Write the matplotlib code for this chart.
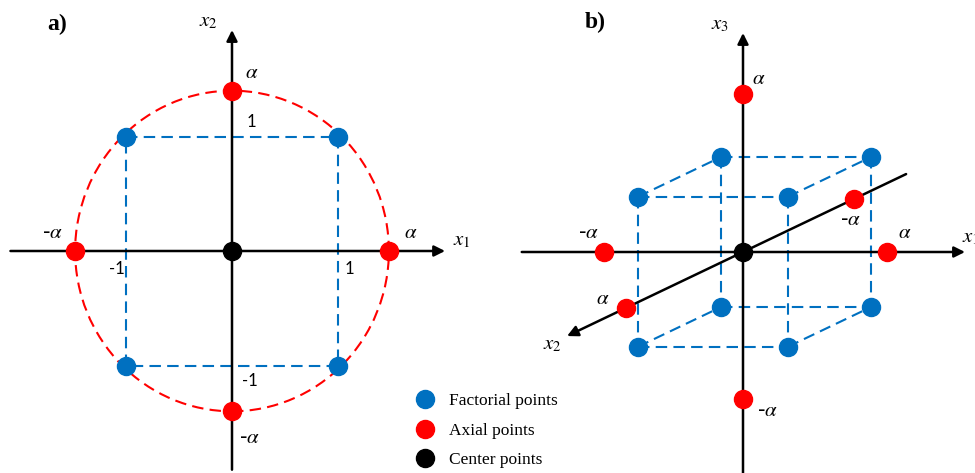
import matplotlib
matplotlib.use("Agg")
import matplotlib.pyplot as plt
from matplotlib.patches import Ellipse
from matplotlib.lines import Line2D
import numpy as np

# colours of the three kinds of design points
BLUE = "#0070C0"
RED = "#FF0000"
BLACK = "#000000"

# ---- panel a: 2 factor central composite design ----
fact_a_x1 = [-1, 1, -1, 1]
fact_a_x2 = [1, 1, -1, -1]
axial_a_x1 = [-1.48, 1.48, 0, 0]
axial_a_x2 = [0, 0, 1.40, -1.40]
axial_a_lab = ["-$\\alpha$", "$\\alpha$", "$\\alpha$", "-$\\alpha$"]

# ---- panel b: 3 factor central composite design ----
cube_x1 = [-1, 1, -1, 1, -1, 1, -1, 1]
cube_x2 = [1, 1, 1, 1, -1, -1, -1, -1]
cube_x3 = [1, 1, -1, -1, 1, 1, -1, -1]
axial_b_x1 = [-1.85, 1.92]
axial_b_x3 = [2.10, -1.96]
axial_b_x2 = [1.73, -1.64]     # distance along the drawn x2 axis
legend_labels = ["Factorial points", "Axial points", "Center points"]

plt.rcParams["mathtext.fontset"] = "stix"

fig = plt.figure(figsize=(9.75, 4.73), dpi=100)
W, H = 975.0, 473.0

# panel a axes: unit is 106 px across and 114.5 px up, origin at (232, 251)
axa = fig.add_axes([0, 0, 487 / W, 1])
axa.set_xlim(-232 / 106, (487 - 232) / 106)
axa.set_ylim((251 - 473) / 114.5, 251 / 114.5)
axa.axis("off")

# panel b axes: 75 px per unit, origin at (743, 252)
axb = fig.add_axes([487 / W, 0, 1 - 487 / W, 1])
axb.set_xlim((487 - 743) / 75, (975 - 743) / 75)
axb.set_ylim((252 - 473) / 75, 252 / 75)
axb.axis("off")

ms = 13
dash = (0, (5.5, 3))
arrow = dict(arrowstyle="-|>", lw=1.8, color="k", mutation_scale=16,
             shrinkA=0, shrinkB=0)

def label(ax, txt, x, y, dx, dy, size=14, font=None):
    ax.annotate(txt, (x, y), xytext=(dx, dy), textcoords="offset pixels",
                ha="center", va="center", fontsize=size,
                family=font if font else "DejaVu Sans")

# ---------- a ----------
# dashed square through the factorial points
sq = [(0, 1), (1, 3), (3, 2), (2, 0)]
for i, j in sq:
    axa.plot([fact_a_x1[i], fact_a_x1[j]], [fact_a_x2[i], fact_a_x2[j]],
             ls=dash, color=BLUE, lw=1.5, zorder=1)
# dashed circle through the axial points
axa.add_patch(Ellipse((0, 0), 2 * axial_a_x1[1], 2 * axial_a_x2[2], fill=False,
                      ls=dash, ec=RED, lw=1.5, zorder=1))
# coordinate axes
axa.annotate("", xy=(2.01, 0), xytext=(-2.09, 0), arrowprops=arrow, zorder=2)
axa.annotate("", xy=(0, 1.93), xytext=(0, -1.91), arrowprops=arrow, zorder=2)
axa.annotate("$x_1$", (2.01, 0), xytext=(17, 11), textcoords="offset pixels",
             ha="center", va="center", fontsize=15)
axa.annotate("$x_2$", (0, 1.93), xytext=(-24, 9), textcoords="offset pixels",
             ha="center", va="center", fontsize=15)

axa.plot(fact_a_x1, fact_a_x2, "o", color=BLUE, ms=ms, zorder=3)
axa.plot(axial_a_x1, axial_a_x2, "o", color=RED, ms=ms, zorder=3)
axa.plot([0], [0], "o", color=BLACK, ms=ms, zorder=3)

offs = [(-23, 19), (22, 19), (20, 19), (18, -26)]
for x, y, t, (dx, dy) in zip(axial_a_x1, axial_a_x2, axial_a_lab, offs):
    axa.annotate(t, (x, y), xytext=(dx, dy), textcoords="offset pixels",
                 ha="center", va="center", fontsize=15)
# level marks
label(axa, "-1", -1, 0, -9, -18, 12, "Lato")
label(axa, "1", 1, 0, 11, -18, 12, "Lato")
label(axa, "1", 0, 1, 19, 15, 12, "Lato")
label(axa, "-1", 0, -1, 18, -15, 12, "Lato")

# ---------- b ----------
depth = 0.61
dvec = np.array([-0.90, -0.43])
dvec = dvec / np.hypot(*dvec)
shift = 0.15

def proj(x1, x2, x3, k=depth, s=shift):
    return x1 + s + k * x2 * dvec[0], x3 + k * x2 * dvec[1]

cx, cy = proj(np.array(cube_x1), np.array(cube_x2), np.array(cube_x3))
for i in range(8):
    for j in range(i + 1, 8):
        diff = (cube_x1[i] != cube_x1[j]) + (cube_x2[i] != cube_x2[j]) + \
               (cube_x3[i] != cube_x3[j])
        if diff == 1:
            axb.plot([cx[i], cx[j]], [cy[i], cy[j]], ls=dash,
                     color=BLUE, lw=1.5, zorder=1)

# coordinate axes
axb.annotate("", xy=(2.96, 0), xytext=(-2.95, 0), arrowprops=arrow, zorder=2)
axb.annotate("", xy=(0, 2.92), xytext=(0, -2.95), arrowprops=arrow, zorder=2)
axb.annotate("", xy=(2.6 * dvec[0], 2.6 * dvec[1]),
             xytext=(-2.41 * dvec[0], -2.41 * dvec[1]), arrowprops=arrow, zorder=2)
axb.annotate("$x_1$", (2.96, 0), xytext=(-3, 15), textcoords="offset pixels",
             ha="left", va="center", fontsize=15)
axb.annotate("$x_3$", (0, 2.92), xytext=(-23, 9), textcoords="offset pixels",
             ha="center", va="center", fontsize=15)
axb.annotate("$x_2$", (2.6 * dvec[0], 2.6 * dvec[1]), xytext=(-15, -8),
             textcoords="offset pixels", ha="center", va="center", fontsize=15)

axb.plot(cx, cy, "o", color=BLUE, ms=ms, zorder=3)
axb.plot(axial_b_x1, [0, 0], "o", color=RED, ms=ms, zorder=3)
axb.plot([0, 0], axial_b_x3, "o", color=RED, ms=ms, zorder=3)
ax2x = [a * dvec[0] for a in axial_b_x2]
ax2y = [a * dvec[1] for a in axial_b_x2]
axb.plot(ax2x, ax2y, "o", color=RED, ms=ms, zorder=3)
axb.plot([0], [0], "o", color=BLACK, ms=ms, zorder=4)

for x, t, dx in zip(axial_b_x1, ["-$\\alpha$", "$\\alpha$"], [-16, 18]):
    axb.annotate(t, (x, 0), xytext=(dx, 20), textcoords="offset pixels",
                 ha="center", va="center", fontsize=15)
for y, t, (dx, dy) in zip(axial_b_x3, ["$\\alpha$", "-$\\alpha$"], [(16, 17), (25, -11)]):
    axb.annotate(t, (0, y), xytext=(dx, dy), textcoords="offset pixels",
                 ha="center", va="center", fontsize=15)
for x, y, t, (dx, dy) in zip(ax2x, ax2y, ["$\\alpha$", "-$\\alpha$"], [(-23, 10), (-3, -20)]):
    axb.annotate(t, (x, y), xytext=(dx, dy), textcoords="offset pixels",
                 ha="center", va="center", fontsize=15)

# panel letters
fig.text(57 / W, 1 - 24 / H, "a)", family="Liberation Serif", weight="bold",
         fontsize=17, ha="center", va="center")
fig.text(595 / W, 1 - 22 / H, "b)", family="Liberation Serif", weight="bold",
         fontsize=17, ha="center", va="center")

# legend
handles = [Line2D([], [], ls="none", marker="o", ms=ms, color=c)
           for c in (BLUE, RED, BLACK)]
fig.legend(handles, legend_labels, loc="upper left",
           bbox_to_anchor=(416 / W, 1 - 393 / H), frameon=False,
           prop={"family": "Liberation Serif", "size": 12.5},
           handlelength=1.0, handletextpad=0.9, labelspacing=0.77,
           borderpad=0, borderaxespad=0)

fig.savefig("out.png", dpi=100)
